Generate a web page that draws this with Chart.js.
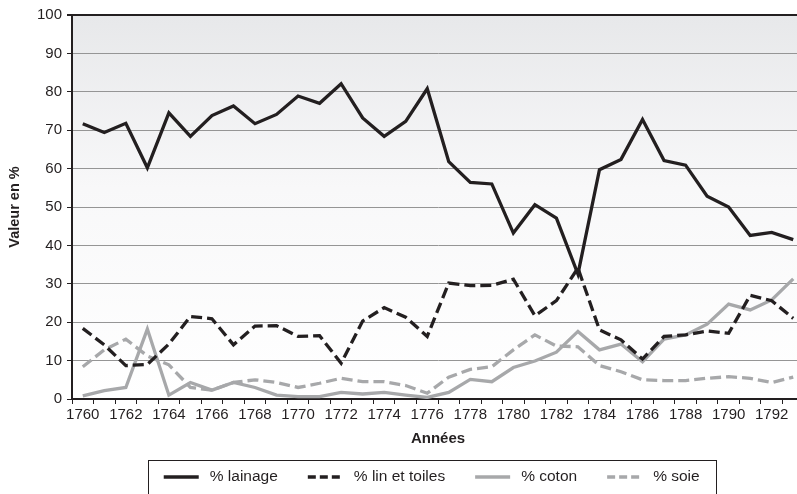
<!DOCTYPE html>
<html>
<head>
<meta charset="utf-8">
<script src="https://cdn.jsdelivr.net/npm/chart.js@4/dist/chart.umd.min.js"></script>
<style>
  html, body { margin: 0; padding: 0; background: #fff; overflow: hidden; }
  #wrap { width: 797px; height: 494px; overflow: hidden; }
</style>
</head>
<body>
<div id="wrap"><canvas id="graph" width="804" height="494"></canvas></div>
<script>
// Années 1760-1793
const annees = [1760,1761,1762,1763,1764,1765,1766,1767,1768,1769,1770,1771,1772,1773,1774,1775,1776,
  1777,1778,1779,1780,1781,1782,1783,1784,1785,1786,1787,1788,1789,1790,1791,1792,1793];

// Valeurs (en %)
const lainage = [71.7,69.4,71.8,60.2,74.5,68.4,73.8,76.3,71.7,74.1,78.9,77.0,82.1,73.2,68.4,72.3,80.8,
  61.8,56.4,56.0,43.2,50.6,47.1,32.5,59.7,62.4,72.8,62.1,60.9,52.8,50.0,42.6,43.4,41.5];
const linToiles = [18.4,14.1,8.7,9.0,14.3,21.5,20.9,14.1,19.0,19.1,16.3,16.5,9.3,20.3,23.8,21.3,16.3,
  30.2,29.5,29.6,31.2,21.7,25.6,34.1,18.0,15.4,10.4,16.3,16.7,17.7,17.1,27.0,25.6,21.0];
const coton = [0.8,2.2,3.0,18.2,1.0,4.3,2.3,4.3,3.0,1.0,0.6,0.6,1.7,1.3,1.7,1.0,0.4,
  1.7,5.1,4.5,8.2,9.9,12.2,17.6,12.8,14.3,9.7,15.6,16.7,19.5,24.7,23.2,25.8,31.3];
const soie = [8.4,12.8,15.6,11.2,8.9,3.0,2.3,4.3,5.0,4.3,3.0,4.1,5.4,4.5,4.5,3.5,1.5,
  5.7,7.7,8.4,12.8,16.7,13.8,13.6,8.7,7.1,5.0,4.8,4.8,5.4,5.8,5.4,4.3,5.7];

const NOIR = '#231f20';
const GRIS = '#a7a8aa';
const police = '"Liberation Sans", Arial, Helvetica, sans-serif';

// fond dégradé de la zone du graphique
const fondDegrade = {
  id: 'fondDegrade',
  beforeDraw(chart) {
    const {ctx, chartArea: a} = chart;
    const g = ctx.createLinearGradient(0, a.top, 0, a.bottom);
    g.addColorStop(0, '#e7e8ea');
    g.addColorStop(0.45, '#f8f8f9');
    g.addColorStop(1, '#ffffff');
    ctx.save();
    ctx.fillStyle = g;
    ctx.fillRect(a.left, a.top, a.right - a.left, a.bottom - a.top);
    ctx.restore();
  }
};

// légende encadrée sous le graphique
const legendeCadre = {
  id: 'legendeCadre',
  afterDraw(chart) {
    const ctx = chart.ctx;
    const ds = chart.data.datasets;
    const echantillon = 35, ecart = 11, entre = 30, marge = 16;
    const yTexte = 477, centre = 431.7;
    ctx.save();
    ctx.font = '15.5px ' + police;
    const largeurs = ds.map(d => ctx.measureText(d.label).width);
    let total = 0;
    largeurs.forEach((w, i) => { total += echantillon + ecart + w + (i < ds.length - 1 ? entre : 0); });
    let x = centre - total / 2;
    // cadre
    ctx.strokeStyle = NOIR;
    ctx.lineWidth = 1;
    ctx.strokeRect(Math.round(x - marge) + 0.5, 460.5, Math.round(total + 2 * marge), 60);
    ds.forEach((d, i) => {
      ctx.beginPath();
      ctx.setLineDash(d.borderDash ? [8, 4] : []);
      ctx.strokeStyle = d.borderColor;
      ctx.lineWidth = d.borderWidth;
      ctx.moveTo(x, yTexte);
      ctx.lineTo(x + echantillon, yTexte);
      ctx.stroke();
      ctx.setLineDash([]);
      ctx.fillStyle = NOIR;
      ctx.textBaseline = 'middle';
      ctx.textAlign = 'left';
      ctx.fillText(d.label, x + echantillon + ecart, yTexte);
      x += echantillon + ecart + largeurs[i] + entre;
    });
    ctx.restore();
  }
};

new Chart(document.getElementById('graph').getContext('2d'), {
  type: 'line',
  data: {
    labels: annees,
    datasets: [
      {label: '% lainage', data: lainage, borderColor: NOIR, borderWidth: 3.3},
      {label: '% lin et toiles', data: linToiles, borderColor: NOIR, borderWidth: 3.3, borderDash: [11, 5]},
      {label: '% coton', data: coton, borderColor: GRIS, borderWidth: 3.3},
      {label: '% soie', data: soie, borderColor: GRIS, borderWidth: 3.3, borderDash: [11, 5]}
    ]
  },
  options: {
    responsive: false,
    animation: false,
    devicePixelRatio: 1,
    layout: {padding: {top: 15, left: 0, right: 0, bottom: 42}},
    elements: {
      point: {radius: 0},
      line: {tension: 0, fill: false, borderCapStyle: 'butt', borderJoinStyle: 'miter'}
    },
    plugins: {
      legend: {display: false},
      tooltip: {enabled: false}
    },
    scales: {
      x: {
        offset: true,
        afterFit: s => { s.height = 53; },
        grid: {offset: true, drawOnChartArea: false, tickLength: 5, tickColor: NOIR, tickWidth: 1},
        border: {color: NOIR, width: 2},
        ticks: {
          autoSkip: false, maxRotation: 0, padding: 2, color: NOIR,
          font: {family: police, size: 15},
          callback: (v, i) => (i % 2 === 0 ? annees[i] : '')
        },
        title: {display: true, text: 'Années', color: NOIR, padding: {top: 4, bottom: 4},
          font: {family: police, size: 15, weight: 'bold'}}
      },
      y: {
        min: 0, max: 100,
        afterFit: s => { s.width = 72; },
        grid: {
          color: c => (c.tick && c.tick.value === 100 ? NOIR : '#959595'),
          lineWidth: c => (c.tick && c.tick.value === 100 ? 2 : 1),
          tickLength: 5, tickColor: NOIR
        },
        border: {color: NOIR, width: 2},
        ticks: {stepSize: 10, padding: 5, color: NOIR, font: {family: police, size: 15}},
        title: {display: true, text: 'Valeur en %', color: NOIR, padding: {top: 6, bottom: 0},
          font: {family: police, size: 14.5, weight: 'bold'}}
      }
    }
  },
  plugins: [fondDegrade, legendeCadre]
});
</script>
</body>
</html>
